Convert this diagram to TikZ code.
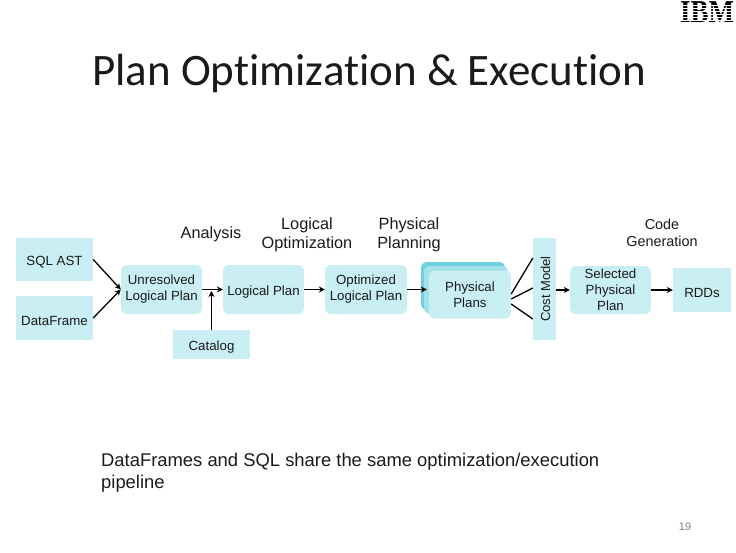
\documentclass[tikz,border=0pt]{standalone}
\usepackage{fontspec}
\setmainfont{Liberation Sans}
\newfontfamily\titlefont[Ligatures=NoCommon]{Carlito}
\newfontfamily\logofont{Liberation Serif}
\usetikzlibrary{arrows.meta}
\definecolor{boxblue}{HTML}{C9EEF3}
\definecolor{backblue}{HTML}{6FD0DF}
\definecolor{midblue}{HTML}{A3E2EB}
\definecolor{inkc}{HTML}{1A1A1A}
\tikzset{
  x=1pt,y=-1pt,
  sq/.style={fill=boxblue,inner sep=0pt,align=center,text=inkc,font=\fontsize{13.3}{16}\selectfont,execute at begin node={\rule{0pt}{15.5pt}}},
  rr/.style={sq,rounded corners=6pt},
  head/.style={align=center,text=inkc,inner sep=0pt},
  arr/.style={draw=black,line width=1.3pt,-{Stealth[length=6pt,width=6pt]}},
  plain/.style={draw=black,line width=1.3pt}
}
\begin{document}
\begin{tikzpicture}
\useasboundingbox (0,0) rectangle (736,552);
\node[anchor=base west,inner sep=0pt,font=\titlefont\fontsize{45}{50}\selectfont,text=inkc] (title) at (92,85) {Plan Optimization \& Execution};
% logo
\node[inner sep=0pt,font=\logofont\bfseries\fontsize{27}{27}\selectfont,text=black] (logo) at (707,12.5) {\scalebox{1}[1.18]{IBM}};
\foreach \yy in {4.5,7.5,10.5,13.5,16.5,19.5}{\fill[white] (678,\yy) rectangle (736,\yy+1.2);}
% boxes
\node[sq,minimum width=77pt,minimum height=43pt] (sql) at (54.5,259.5) {SQL AST};
\node[sq,minimum width=77pt,minimum height=44pt] (df) at (54.5,318) {DataFrame};
\node[rr,minimum width=81pt,minimum height=49pt] (unres) at (161.5,289.5) {Unresolved\\Logical Plan};
\node[rr,minimum width=81pt,minimum height=49pt] (lp) at (263.5,289.5) {Logical Plan};
\node[rr,minimum width=82pt,minimum height=49pt] (opt) at (366,289.5) {Optimized\\Logical Plan};
\node[sq,minimum width=77pt,minimum height=29pt] (cat) at (211.5,344.5) {Catalog};
\node[rr,fill=backblue,minimum width=84pt,minimum height=48pt] (pb) at (463,286) {};
\node[rr,fill=midblue,minimum width=84pt,minimum height=48pt] (pm) at (466,290) {};
\node[rr,minimum width=82pt,minimum height=48pt] (pf) at (470,294.5) {Physical\\Plans};
\node[sq,minimum width=23pt,minimum height=102pt] (cost) at (544.5,289) {};
\node[inner sep=0pt,rotate=90,text=inkc,font=\fontsize{13}{16}\selectfont] (costt) at (545.5,289) {Cost Model};
\node[rr,minimum width=81pt,minimum height=48pt] (sel) at (610.5,290) {Selected\\Physical\\Plan};
\node[sq,minimum width=58pt,minimum height=44pt] (rdd) at (702,290) {RDDs};
% headings
\node[head,font=\fontsize{16.3}{19}\selectfont] (h1) at (211,234) {Analysis};
\node[head,font=\fontsize{16.3}{19}\selectfont] (h2) at (307,234.5) {Logical\\Optimization};
\node[head,font=\fontsize{16.3}{19}\selectfont] (h3) at (409,234.5) {Physical\\Planning};
\node[head,font=\fontsize{14.4}{17}\selectfont] (h4) at (662,232.5) {Code\\Generation};
% caption
\node[anchor=base west,inner sep=0pt,align=left,text=inkc,font=\fontsize{18.4}{22}\selectfont] (cap) at (101,488) {DataFrames and SQL share the same optimization/execution\\pipeline};
\node[inner sep=0pt,text=gray,font=\fontsize{11}{13}\selectfont] (pg) at (685,527) {19};
% connectors
\coordinate (catend) at (211.5,291);
\draw[arr] (sql.east) -- (unres.west);
\draw[arr] (df.east) -- (unres.west);
\draw[arr] (unres.east) -- (lp.west);
\draw[arr] (cat.north) -- (catend);
\draw[arr] (lp.east) -- (opt.west);
\draw[arr] (opt.east) -- ([xshift=-2pt]opt.east -| pf.west);
\draw[plain] ([yshift=-9.5pt]pf.east) -- ([yshift=-30pt]cost.west);
\draw[plain] ([yshift=-4.5pt]pf.east) -- ([yshift=1pt]cost.west);
\draw[plain] ([yshift=0.5pt]pf.east) -- ([yshift=31pt]cost.west);
\draw[arr] (sel.west -| cost.east) -- (sel.west);
\draw[arr] (sel.east) -- (rdd.west);
\end{tikzpicture}
\end{document}
